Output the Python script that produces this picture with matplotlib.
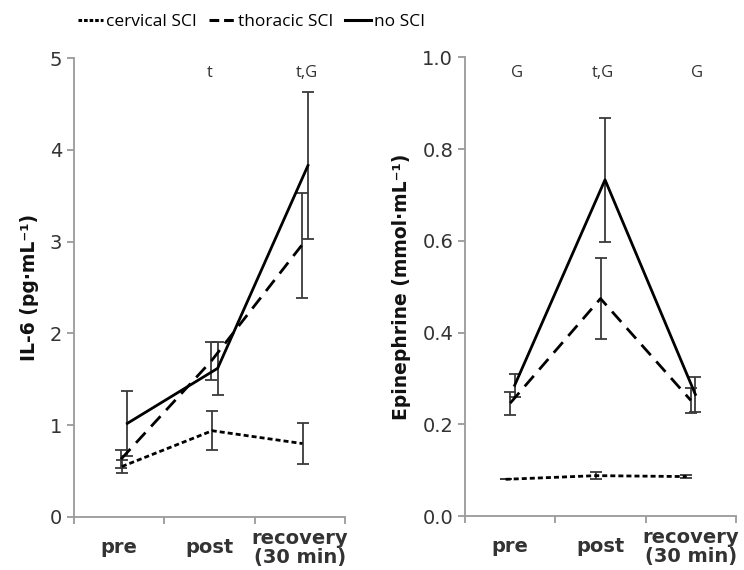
import matplotlib
matplotlib.use("Agg")
import matplotlib.pyplot as plt
from matplotlib.lines import Line2D

plt.rcParams['lines.scale_dashes'] = False

categories = ["pre", "post", "recovery\n(30 min)"]
series_names = ["cervical SCI", "thoracic SCI", "no SCI"]

# IL-6 (pg/mL)
il6_mean = {"cervical SCI": [0.55, 0.94, 0.80],
            "thoracic SCI": [0.63, 1.70, 2.96],
            "no SCI": [1.02, 1.62, 3.83]}
il6_err = {"cervical SCI": [0.07, 0.21, 0.22],
           "thoracic SCI": [0.10, 0.21, 0.57],
           "no SCI": [0.35, 0.29, 0.80]}
il6_annot = ["", "t", "t,G"]

# Epinephrine (mmol/mL)
epi_mean = {"cervical SCI": [0.080, 0.088, 0.086],
            "thoracic SCI": [0.246, 0.474, 0.252],
            "no SCI": [0.285, 0.733, 0.265]}
epi_err = {"cervical SCI": [0.0, 0.008, 0.004],
           "thoracic SCI": [0.025, 0.089, 0.028],
           "no SCI": [0.025, 0.135, 0.038]}
epi_annot = ["G", "t,G", "G"]

styles = {"cervical SCI": dict(dashes=(3.6, 2.2)),
          "thoracic SCI": dict(dashes=(10.0, 6.0)),
          "no SCI": dict(linestyle="-")}
legend_styles = {"cervical SCI": dict(dashes=(2.6, 1.4)),
                 "thoracic SCI": dict(dashes=(7.0, 3.5)),
                 "no SCI": dict(linestyle="-")}

fig = plt.figure(figsize=(7.44, 5.70), dpi=100)
ax1 = fig.add_axes([0.0995, 0.093, 0.3642, 0.805])
ax2 = fig.add_axes([0.625, 0.0947, 0.3643, 0.8048])

spine_col = "#9a9a9a"
txt_col = "#333333"


def draw(ax, means, errs, offsets, ylim, yticks, fmt, ylabel, annot, annot_y, annot_off):
    for name in series_names:
        xs = [i + offsets[name] for i in range(len(categories))]
        ax.errorbar(xs, means[name], yerr=errs[name], fmt="none",
                    ecolor="#3a3a3a", elinewidth=1.3, capsize=4, capthick=1.3, zorder=2)
        ax.plot(xs, means[name], color="black", lw=2.0, zorder=3, **styles[name])
    ax.set_xlim(-0.5, 2.5)
    ax.set_ylim(*ylim)
    ax.set_yticks(yticks)
    ax.set_yticklabels([fmt.format(v) for v in yticks])
    ax.set_xticks([-0.5, 0.5, 1.5, 2.5])
    ax.set_xticklabels([])
    ax.set_xticks(range(len(categories)), minor=True)
    ax.set_xticklabels(categories, minor=True, fontweight="bold", fontsize=14)
    for lab in ax.get_xticklabels(minor=True):
        lab.set_verticalalignment("center")
        lab.set_linespacing(1.0)
    ax.tick_params(axis="x", which="minor", length=0, pad=22, colors=txt_col)
    ax.tick_params(axis="x", which="major", length=5, width=1.3, color=spine_col, direction="out")
    ax.tick_params(axis="y", length=5, width=1.3, color=spine_col, labelsize=14,
                   labelcolor=txt_col, direction="out")
    for s in ["top", "right"]:
        ax.spines[s].set_visible(False)
    for s in ["left", "bottom"]:
        ax.spines[s].set_color(spine_col)
        ax.spines[s].set_linewidth(1.3)
    ax.set_ylabel(ylabel, fontweight="bold", fontsize=13.5, color="#111111", labelpad=8)
    for i, a in enumerate(annot):
        if a:
            ax.text(i + annot_off[i], annot_y, a, ha="center", va="center",
                    fontsize=12, family="Open Sans", color=txt_col)


draw(ax1, il6_mean, il6_err,
     {"cervical SCI": 0.03, "thoracic SCI": 0.02, "no SCI": 0.09},
     (0, 5), [0, 1, 2, 3, 4, 5], "{:.0f}", "IL-6 (pg\u00b7mL\u207b\u00b9)",
     il6_annot, 4.84, [0.0, 0.0, 0.08])
draw(ax2, epi_mean, epi_err,
     {"cervical SCI": -0.05, "thoracic SCI": 0.0, "no SCI": 0.05},
     (0, 1.0), [0.0, 0.2, 0.4, 0.6, 0.8, 1.0], "{:.1f}", "Epinephrine (mmol\u00b7mL\u207b\u00b9)",
     epi_annot, 0.965, [0.08, 0.03, 0.07])

handles = [Line2D([], [], color="black", lw=2.2, **legend_styles[n]) for n in series_names]
fig.legend(handles, series_names, loc="center", bbox_to_anchor=(0.338, 0.962), ncol=3,
           frameon=False, handlelength=1.45, handletextpad=0.2, columnspacing=0.7,
           prop={"family": "Open Sans", "size": 12.5})

fig.savefig("out.png", dpi=100)
